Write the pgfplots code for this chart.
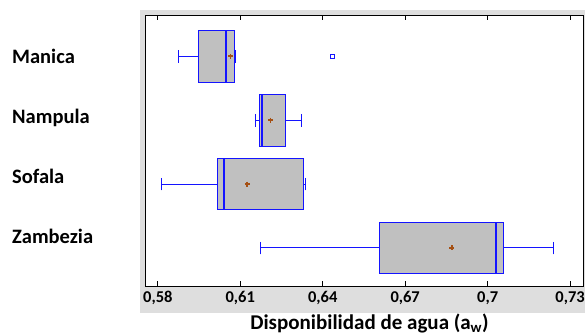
\documentclass[border=0pt]{standalone}
\usepackage{pgfplots}
\pgfplotsset{compat=1.18}
\usepgfplotslibrary{statistics}
\usepackage{fontspec}
\setmainfont{Carlito}
\definecolor{bxblue}{RGB}{20,20,255}
\definecolor{bxfill}{RGB}{192,192,192}
\definecolor{meanc}{RGB}{165,80,20}
\definecolor{bggray}{RGB}{222,222,222}
\begin{document}
\begin{tikzpicture}
\useasboundingbox (-146bp,-49bp) rectangle (439bp,286bp);
\fill[bggray] (-6bp,-27bp) rectangle (439bp,276bp);
\begin{axis}[
  at={(0,0)}, anchor=south west,
  scale only axis, width=437bp, height=271bp,
  xmin=0.5757, xmax=0.7347, ymin=0.405, ymax=4.646,
  axis background/.style={fill=white},
  axis line style={line width=1bp},
  xtick={0.58,0.61,0.64,0.67,0.70,0.73},
  xticklabels={{0,58},{0,61},{0,64},{0,67},{0,7},{0,73}},
  tick align=inside, xtick pos=both, major tick length=5bp,
  xtick style={black,line width=1bp},
  ytick={1.177,2.116,3.055,3.994}, yticklabels={Zambezia,Sofala,Nampula,Manica},
  ytick style={draw=none},
  yticklabel style={anchor=base west, xshift=-134bp, yshift=-6.5bp, inner xsep=0pt, font=\fontsize{20.5bp}{24bp}\selectfont\bfseries},
  xticklabel style={anchor=center, yshift=-12bp, font=\fontsize{16.5bp}{19bp}\selectfont\bfseries},
  xlabel={Disponibilidad de agua (a\textsubscript{w})},
  xlabel style={at={(axis description cs:0.5,0)}, anchor=center, yshift=-37bp, xshift=5bp, font=\fontsize{21bp}{25bp}\selectfont\bfseries},
  boxplot/draw direction=x,
  boxplot/box extend=0.81,
  boxplot/whisker extend=0.2,
  boxplot/every median/.style={line width=2bp},
  boxplot/every average/.style={/tikz/mark=+, /tikz/mark size=2.5bp, color=meanc, line width=1.6bp,
     /utils/exec={\pgfsetstrokecolor{meanc}\pgfsetfillcolor{meanc}\pgfsetlinewidth{1.6bp}}},
]
% Manica
\addplot[draw=bxblue, fill=bxfill, line width=1bp,
  mark=square, mark size=2.2bp, mark options={draw=bxblue, fill=white, line width=1bp},
  boxplot prepared={draw position=4, lower whisker=0.5877, lower quartile=0.5949,
    median=0.6048, upper quartile=0.6078, upper whisker=0.6082, average=0.6065}]
  coordinates {(0,0.6436)};
% Nampula
\addplot[draw=bxblue, fill=bxfill, line width=1bp,
  boxplot prepared={draw position=3, lower whisker=0.6154, lower quartile=0.6170,
    median=0.6178, upper quartile=0.6264, upper whisker=0.6324, average=0.6210}]
  coordinates {};
% Sofala
\addplot[draw=bxblue, fill=bxfill, line width=1bp,
  boxplot prepared={draw position=2, lower whisker=0.5813, lower quartile=0.6016,
    median=0.6040, upper quartile=0.6331, upper whisker=0.6338, average=0.6125}]
  coordinates {};
% Zambezia
\addplot[draw=bxblue, fill=bxfill, line width=1bp,
  boxplot prepared={draw position=1, lower whisker=0.6175, lower quartile=0.6605,
    median=0.7030, upper quartile=0.7059, upper whisker=0.7241, average=0.6870}]
  coordinates {};
\end{axis}
\end{tikzpicture}
\end{document}
